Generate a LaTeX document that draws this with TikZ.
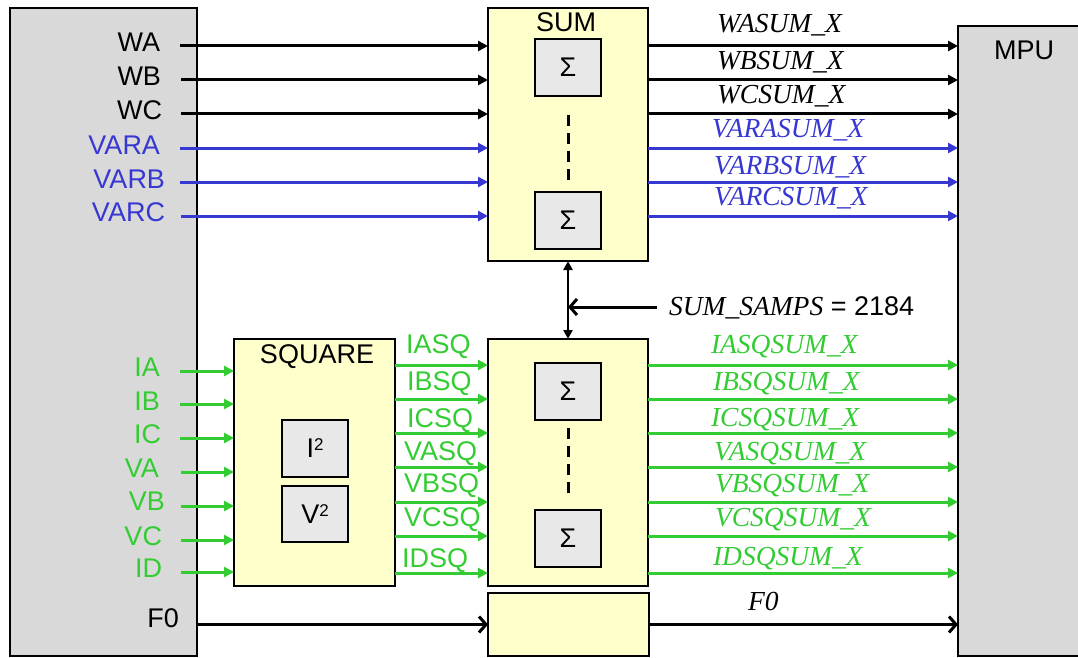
\documentclass[tikz,border=0pt]{standalone}
\usepackage{fontspec}
\setmainfont{Liberation Sans}
\newfontfamily\tms{Liberation Serif}
\usetikzlibrary{arrows.meta,calc}
\definecolor{cblue}{RGB}{55,55,210}
\definecolor{cgreen}{RGB}{51,204,51}
\definecolor{yel}{RGB}{255,255,204}
\definecolor{gry}{RGB}{217,217,217}
\definecolor{lgry}{RGB}{232,232,232}
\newcommand{\sqtwo}{\raisebox{7pt}{\fontsize{17}{20}\selectfont 2}}
\begin{document}
\begin{tikzpicture}[x=1pt,y=-1pt,
  every node/.style={inner sep=0pt, outer sep=0pt},
  lbl/.style={font=\fontsize{27}{32}\selectfont},
  ilbl/.style={font=\tms\itshape\fontsize{27.5}{32}\selectfont},
  blk/.style={draw=black, line width=2.4pt, anchor=north west},
  ybox/.style={blk, fill=yel},
  gbox/.style={blk, fill=gry},
  sbox/.style={blk, fill=lgry, minimum width=66pt, minimum height=57pt, font=\fontsize{27}{32}\selectfont},
  arr/.style={line width=3pt, -{Triangle[length=10pt,width=10pt]}},
  oarr/.style={line width=3pt, -{Straight Barb[length=7pt,width=16pt]}},
  varr/.style={line width=2.6pt, {Triangle[length=9pt,width=9pt]}-{Triangle[length=9pt,width=9pt]}},
  dline/.style={line width=3pt, dash pattern=on 11pt off 7pt},
]
\useasboundingbox (0,0) rectangle (1078,658);
\clip (0,0) rectangle (1078,658);

% main blocks
\node[gbox, minimum width=187pt, minimum height=648pt] (src) at (10,8) {};
\node[gbox, minimum width=135pt, minimum height=630pt] (mpu) at (958,26) {};
\node[lbl] (mpulbl) at (1024,50) {MPU};

\node[ybox, minimum width=160pt, minimum height=253pt] (sum) at (488,8) {};
\node[lbl, anchor=base] (sumlbl) at (566,32) {SUM};
\node[sbox] (s1) at (535,39) {Σ};
\node[sbox] (s2) at (535,192) {Σ};
\draw[dline] ($(s1.south)+(0,19)$) -- ($(s2.north)+(0,-10)$);

\node[ybox, minimum width=160pt, minimum height=247pt] (sumsq) at (488,339) {};
\node[sbox] (s3) at (535,363) {Σ};
\node[sbox] (s4) at (535,510) {Σ};
\draw[dline] ($(s3.south)+(0,8)$) -- ($(s4.north)+(0,-14)$);

\node[ybox, minimum width=161pt, minimum height=63pt] (f0box) at (488,593) {};

\node[ybox, minimum width=161pt, minimum height=247pt] (sq) at (234,339) {};
\node[lbl, anchor=base] (sqlbl) at (317,363) {SQUARE};
\node[sbox, minimum height=57pt] (isq) at (282,420) {I\sqtwo};
\node[sbox, minimum height=56pt] (vsq) at (282,486) {V\sqtwo};

% top inputs
\node[lbl, anchor=base east] (lwa) at (160,52) {WA};
\node[lbl, anchor=base east] (lwb) at (161,86) {WB};
\node[lbl, anchor=base east] (lwc) at (162,120) {WC};
\node[lbl, anchor=base east, text=cblue] (lva) at (160,154) {VARA};
\node[lbl, anchor=base east, text=cblue] (lvb) at (165,188) {VARB};
\node[lbl, anchor=base east, text=cblue] (lvc) at (165,221) {VARC};
\coordinate (a1) at (180,46);
\coordinate (a2) at (181,80);
\coordinate (a3) at (181,114);
\coordinate (a4) at (180,148);
\coordinate (a5) at (180,182);
\coordinate (a6) at (181,216);
\draw[arr] (a1) -- (a1 -| sum.west);
\draw[arr] (a2) -- (a2 -| sum.west);
\draw[arr] (a3) -- (a3 -| sum.west);
\draw[arr, cblue] (a4) -- (a4 -| sum.west);
\draw[arr, cblue] (a5) -- (a5 -| sum.west);
\draw[arr, cblue] (a6) -- (a6 -| sum.west);
\draw[arr] (a1 -| sum.east) -- (a1 -| mpu.west);
\draw[arr] (a2 -| sum.east) -- (a2 -| mpu.west);
\draw[arr] (a3 -| sum.east) -- (a3 -| mpu.west);
\draw[arr, cblue] (a4 -| sum.east) -- (a4 -| mpu.west);
\draw[arr, cblue] (a5 -| sum.east) -- (a5 -| mpu.west);
\draw[arr, cblue] (a6 -| sum.east) -- (a6 -| mpu.west);
\node[ilbl, anchor=base west] (rwa) at (717,33) {WASUM\_X};
\node[ilbl, anchor=base west] (rwb) at (717,70) {WBSUM\_X};
\node[ilbl, anchor=base west] (rwc) at (717,104) {WCSUM\_X};
\node[ilbl, anchor=base west, text=cblue] (rva) at (712,137) {VARASUM\_X};
\node[ilbl, anchor=base west, text=cblue] (rvb) at (714,174) {VARBSUM\_X};
\node[ilbl, anchor=base west, text=cblue] (rvc) at (714,205) {VARCSUM\_X};

% sum samps
\draw[varr] (sum.south) -- (sumsq.north);
\coordinate (ss) at (657,307);
\draw[oarr] (ss) -- (ss -| sum.south);
\node[lbl, anchor=base west] (samps) at (669,315) {{\tms\itshape\fontsize{27.5}{32}\selectfont SUM\_SAMPS} = 2184};

% green inputs
\node[lbl, anchor=base east, text=cgreen] (lia) at (160,376) {IA};
\node[lbl, anchor=base east, text=cgreen] (lib) at (160,410) {IB};
\node[lbl, anchor=base east, text=cgreen] (lic) at (161,443) {IC};
\node[lbl, anchor=base east, text=cgreen] (lvA) at (159,477) {VA};
\node[lbl, anchor=base east, text=cgreen] (lvB) at (165,510) {VB};
\node[lbl, anchor=base east, text=cgreen] (lvC) at (162,545) {VC};
\node[lbl, anchor=base east, text=cgreen] (lid) at (162,577) {ID};
\coordinate (g1) at (180,371);
\coordinate (g2) at (180,404);
\coordinate (g3) at (180,438);
\coordinate (g4) at (181,472);
\coordinate (g5) at (181,506);
\coordinate (g6) at (181,540);
\coordinate (g7) at (181,572);
\foreach \g in {g1,g2,g3,g4,g5,g6,g7}{
  \draw[arr, cgreen] (\g) -- (\g -| sq.west);
}
% squared outputs
\coordinate (h1) at (395,365);
\coordinate (h2) at (395,399);
\coordinate (h3) at (395,433);
\coordinate (h4) at (395,467);
\coordinate (h5) at (395,502);
\coordinate (h6) at (395,536);
\coordinate (h7) at (395,573);
\foreach \h in {h1,h2,h3,h4,h5,h6,h7}{
  \draw[arr, cgreen] (\h -| sq.east) -- (\h -| sumsq.west);
  \draw[arr, cgreen] (\h -| sumsq.east) -- (\h -| mpu.west);
}
\node[lbl, anchor=base west, text=cgreen] (qia) at (406,353) {IASQ};
\node[lbl, anchor=base west, text=cgreen] (qib) at (407,390) {IBSQ};
\node[lbl, anchor=base west, text=cgreen] (qic) at (407,427) {ICSQ};
\node[lbl, anchor=base west, text=cgreen] (qva) at (404,460) {VASQ};
\node[lbl, anchor=base west, text=cgreen] (qvb) at (404,492) {VBSQ};
\node[lbl, anchor=base west, text=cgreen] (qvc) at (404,526) {VCSQ};
\node[lbl, anchor=base west, text=cgreen] (qid) at (402,567) {IDSQ};
\node[ilbl, anchor=base west, text=cgreen] (ria) at (711,353) {IASQSUM\_X};
\node[ilbl, anchor=base west, text=cgreen] (rib) at (713,390) {IBSQSUM\_X};
\node[ilbl, anchor=base west, text=cgreen] (ric) at (711,426) {ICSQSUM\_X};
\node[ilbl, anchor=base west, text=cgreen] (rva2) at (714,460) {VASQSUM\_X};
\node[ilbl, anchor=base west, text=cgreen] (rvb2) at (715,492) {VBSQSUM\_X};
\node[ilbl, anchor=base west, text=cgreen] (rvc2) at (715,526) {VCSQSUM\_X};
\node[ilbl, anchor=base west, text=cgreen] (rid) at (713,565) {IDSQSUM\_X};

% F0
\node[lbl, anchor=base east] (lf0) at (179,627) {F0};
\draw[oarr] (src.east |- f0box.west) -- (f0box.west);
\draw[oarr] (f0box.east) -- (f0box.east -| mpu.west);
\node[ilbl, anchor=base west] (rf0) at (748,610) {F0};
\end{tikzpicture}
\end{document}
